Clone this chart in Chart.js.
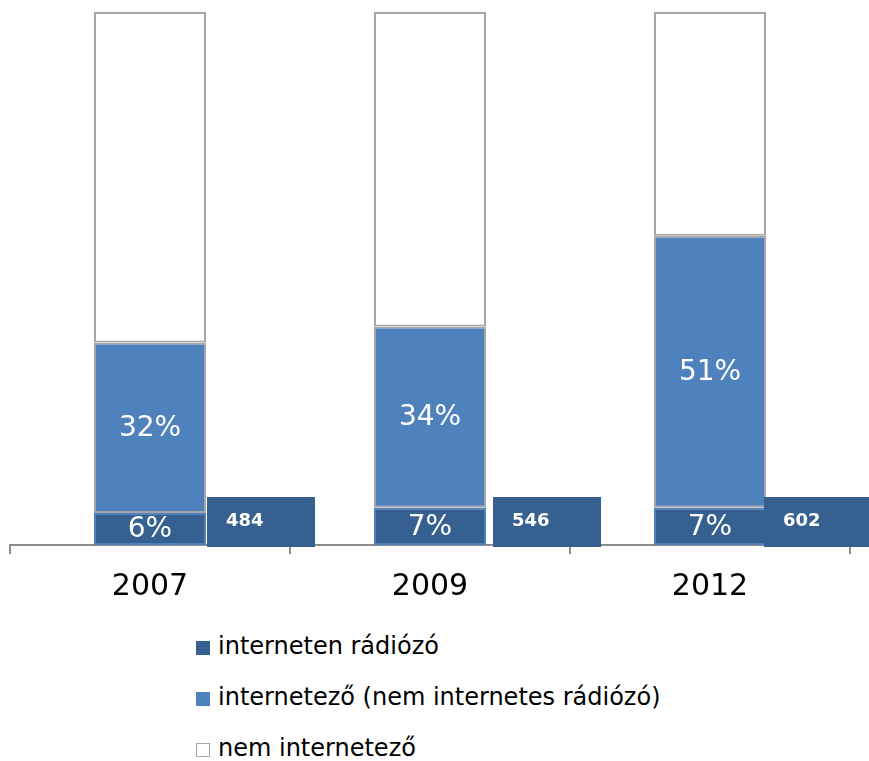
<!DOCTYPE html>
<html lang="hu">
<head>
<meta charset="UTF-8">
<script src="https://cdn.jsdelivr.net/npm/chart.js"></script>
<title>Internetes rádiózás</title>
<style>
  body { margin: 0; background: #fff; }
  #wrap { position: relative; width: 869px; height: 761px; }
  #legend { position: absolute; left: 196px; top: 632px; font-family: "DejaVu Sans", sans-serif; font-size: 24px; color: #000; }
  #legend div { height: 51px; display: flex; align-items: flex-start; white-space: nowrap; }
  #legend span.box { display: inline-block; width: 14px; height: 14px; margin-right: 8px; margin-top: 9px; box-sizing: border-box; }
</style>
</head>
<body>
<div id="wrap">
  <canvas id="chart" width="869" height="620"></canvas>
  <div id="legend"></div>
</div>
<script>
const years = ['2007', '2009', '2012'];
const radio = [6, 7, 7];          // interneten rádiózó
const netUser = [32, 34, 51];     // internetező (nem internetes rádiózó)
const nonUser = [62, 59, 42];     // nem internetező
const sampleN = ['484', '546', '602'];

const seriesNames = ['interneten rádiózó', 'internetező (nem internetes rádiózó)', 'nem internetező'];
const fills = ['#35608f', '#4f81bd', '#ffffff'];
const borders = ['#4f81bd', '#a6a6a6', '#a6a6a6'];

// percent labels inside the two lower segments + the sample size boxes
const labelPlugin = {
  id: 'labels',
  afterDatasetsDraw(chart) {
    const ctx = chart.ctx;
    ctx.save();
    ctx.fillStyle = '#fff';
    ctx.textAlign = 'center';
    ctx.textBaseline = 'middle';
    ctx.font = '28px "DejaVu Sans"';
    [0, 1].forEach(d => {
      chart.getDatasetMeta(d).data.forEach((bar, i) => {
        const mid = (bar.y + bar.base) / 2;
        ctx.fillText(chart.data.datasets[d].data[i] + '%', bar.x, mid + 1);
      });
    });
    const xs = chart.scales.x;
    const bottom = chart.chartArea.bottom;
    const shift = [57, 63, 54];
    sampleN.forEach((n, i) => {
      const left = xs.getPixelForValue(i) + shift[i];
      ctx.fillStyle = '#35608f';
      ctx.fillRect(left, bottom - 48, 108, 50);
      ctx.fillStyle = '#fff';
      ctx.textAlign = 'left';
      ctx.font = 'bold 18px "DejaVu Sans"';
      ctx.fillText(n, left + 19, bottom - 24);
    });
    ctx.restore();
  }
};

const datasets = [radio, netUser, nonUser].map((vals, k) => ({
  label: seriesNames[k],
  data: vals,
  backgroundColor: fills[k],
  borderColor: borders[k],
  borderWidth: 2,
  borderSkipped: false,
  barPercentage: 0.4,
  categoryPercentage: 1
}));

const chart = new Chart(document.getElementById('chart'), {
  type: 'bar',
  data: { labels: years, datasets: datasets },
  options: {
    responsive: false,
    animation: false,
    layout: { padding: { top: 12, left: 10, right: 19, bottom: 0 } },
    plugins: { legend: { display: false }, tooltip: { enabled: false } },
    scales: {
      x: {
        stacked: true,
        grid: { drawOnChartArea: false, drawTicks: true, tickLength: 9, color: '#8c8c8c', lineWidth: 2 },
        border: { color: '#8c8c8c', width: 2 },
        ticks: { color: '#000', padding: 15, font: { family: 'DejaVu Sans', size: 30 } }
      },
      y: { stacked: true, display: false, min: 0, max: 100 }
    }
  },
  plugins: [labelPlugin]
});

const legend = document.getElementById('legend');
datasets.forEach(ds => {
  const row = document.createElement('div');
  const box = document.createElement('span');
  box.className = 'box';
  box.style.background = ds.backgroundColor;
  box.style.border = '1px solid ' + (ds.backgroundColor === '#ffffff' ? '#a6a6a6' : ds.backgroundColor);
  row.appendChild(box);
  row.appendChild(document.createTextNode(ds.label));
  legend.appendChild(row);
});
</script>
</body>
</html>
